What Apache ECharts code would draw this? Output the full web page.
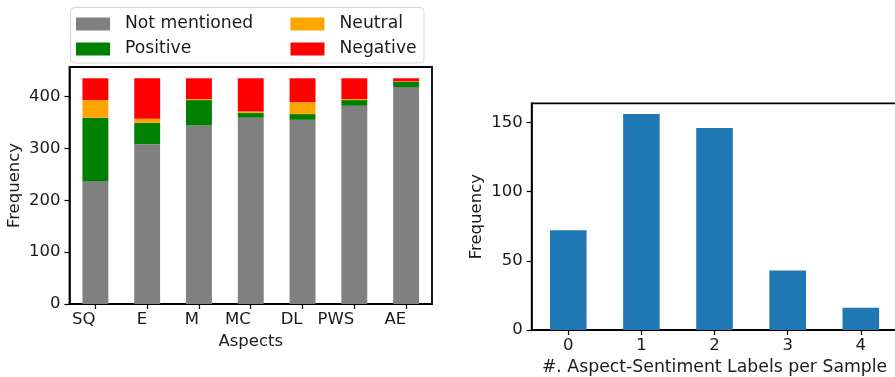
<!DOCTYPE html>
<html>
<head>
<meta charset="utf-8">
<script src="https://cdn.jsdelivr.net/npm/echarts@6/dist/echarts.min.js"></script>
<style>
  html, body { margin: 0; padding: 0; background: #fff; }
  #chart { width: 895px; height: 377px; }
</style>
</head>
<body>
<div id="chart"></div>
<script>
// Left panel: sentiment counts per aspect (stacked)
const aspects = ['SQ', 'E', 'M', 'MC', 'DL', 'PWS', 'AE'];
const notMentioned = [237, 308, 344, 359, 355, 382, 418];
const positive     = [122, 41, 49, 9, 11, 11, 10];
const neutral      = [34, 8, 2, 3, 23, 2, 1];
const negative     = [42, 78, 40, 64, 46, 40, 6];
const leftTicks = [0, 100, 200, 300, 400];

// Right panel: number of aspect-sentiment labels per sample
const labelCounts = ['0', '1', '2', '3', '4'];
const sampleFreq  = [72, 156, 146, 43, 16];
const rightTicks = [0, 50, 100, 150];

const FONT = 'DejaVu Sans';
const TXT = '#1a1a1a';
const FS = 16.5;

const totals = aspects.map((_, i) => notMentioned[i] + positive[i] + neutral[i] + negative[i]);
const leftMax = Math.max(...totals) * 1.05;
const rightMax = Math.max(...sampleFreq) * 1.05;

const chart = echarts.init(document.getElementById('chart'), null, { renderer: 'canvas' });

function valueAxis(gridIndex, max, ticks, name, gap) {
  return {
    type: 'value', gridIndex, min: 0, max,
    name, nameLocation: 'middle', nameGap: gap,
    nameTextStyle: { fontFamily: FONT, fontSize: FS, color: TXT },
    axisLine: { show: true, lineStyle: { color: '#000', width: 1.5 } },
    axisTick: { show: true, length: 5, customValues: ticks, lineStyle: { color: '#000', width: 1.2 } },
    axisLabel: { customValues: ticks, margin: 9, fontFamily: FONT, fontSize: FS, color: TXT },
    splitLine: { show: false }
  };
}

function categoryAxis(gridIndex, data, name, gap, align, nameSize) {
  return {
    type: 'category', gridIndex, data,
    name, nameLocation: 'middle', nameGap: gap,
    nameTextStyle: { fontFamily: FONT, fontSize: nameSize, color: TXT },
    axisLine: { show: true, lineStyle: { color: '#000', width: 1.5 } },
    axisTick: { show: true, alignWithLabel: true, length: 5, lineStyle: { color: '#000', width: 1.2 } },
    axisLabel: { margin: 7, align, fontFamily: FONT, fontSize: FS, color: TXT, interval: 0 }
  };
}

function stacked(name, data, color) {
  return {
    name, type: 'bar', stack: 'aspects', data,
    xAxisIndex: 0, yAxisIndex: 0, barWidth: '50%',
    itemStyle: { color }, emphasis: { disabled: true }
  };
}

const legendCommon = {
  orient: 'vertical', itemWidth: 34, itemHeight: 13, itemGap: 5,
  icon: 'rect', selectedMode: false, padding: 0,
  textStyle: { fontFamily: FONT, fontSize: 17.2, lineHeight: 20, color: TXT, padding: [0, 0, 0, 10] }
};

chart.setOption({
  animation: false,
  grid: [
    { left: 69.5, top: 67, width: 362.5, height: 237, outerBoundsMode: 'none', containLabel: false,
      show: true, borderColor: '#000', borderWidth: 1.8, backgroundColor: 'transparent' },
    { left: 531.7, top: 103.3, width: 365.7, height: 226.7, outerBoundsMode: 'none', containLabel: false,
      show: true, borderColor: '#000', borderWidth: 1.8, backgroundColor: 'transparent' }
  ],
  legend: [
    Object.assign({ left: 76, top: 14, data: ['Not mentioned', 'Positive'] }, legendCommon),
    Object.assign({ left: 290.5, top: 14, data: ['Neutral', 'Negative'] }, legendCommon)
  ],
  xAxis: [
    categoryAxis(0, aspects, 'Aspects', 26, 'right', FS),
    categoryAxis(1, labelCounts, '#. Aspect-Sentiment Labels per Sample', 24, 'center', 17.3)
  ],
  yAxis: [
    valueAxis(0, leftMax, leftTicks, 'Frequency', 46),
    valueAxis(1, rightMax, rightTicks, 'Frequency', 46)
  ],
  graphic: [
    { type: 'rect', shape: { x: 70.5, y: 7.5, width: 353.5, height: 55.5, r: 4 },
      style: { fill: 'rgba(255,255,255,0.8)', stroke: '#d6d6d6', lineWidth: 1 }, z: -1 }
  ],
  series: [
    stacked('Not mentioned', notMentioned, '#808080'),
    stacked('Positive', positive, '#008000'),
    stacked('Neutral', neutral, '#ffa500'),
    stacked('Negative', negative, '#ff0000'),
    {
      name: 'Samples', type: 'bar', data: sampleFreq,
      xAxisIndex: 1, yAxisIndex: 1, barWidth: '50%',
      itemStyle: { color: '#1f77b4' }, emphasis: { disabled: true }
    }
  ]
});
</script>
</body>
</html>
